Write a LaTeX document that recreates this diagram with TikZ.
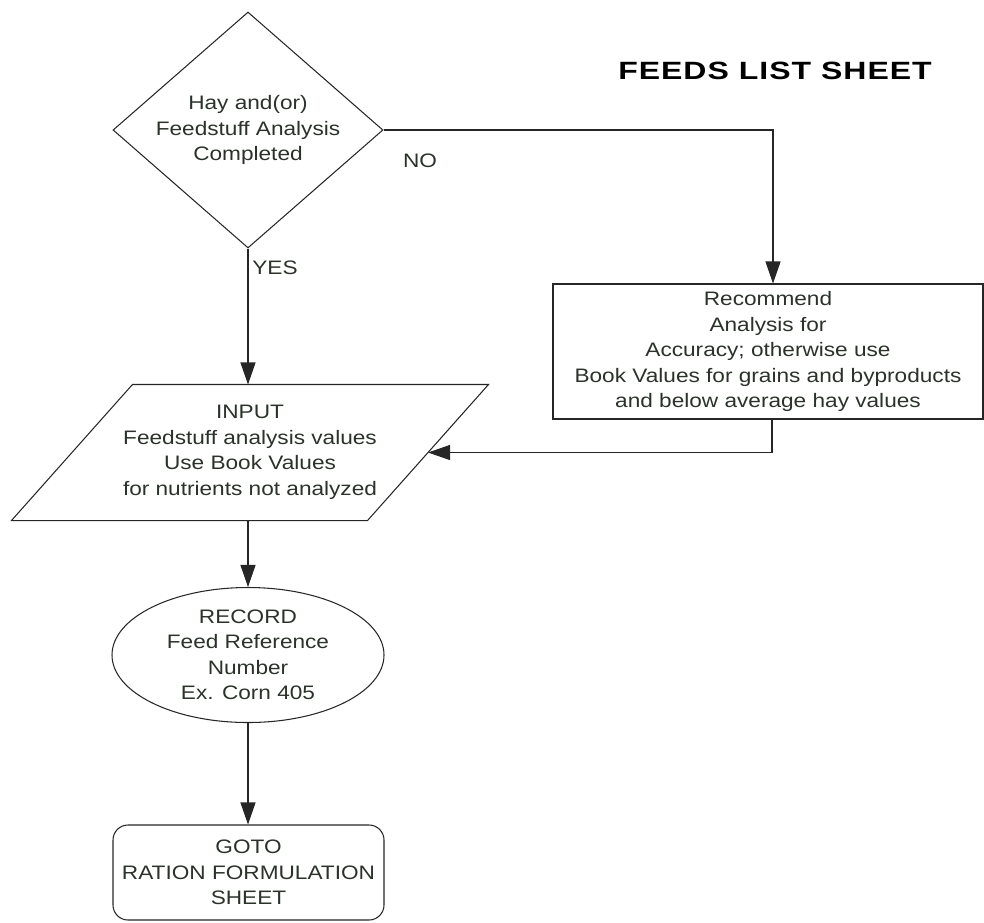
\documentclass[tikz,border=0pt]{standalone}
\usepackage{fontspec}
\setmainfont{Liberation Sans}[FakeStretch=1.16]
\newfontfamily\titlefont{Liberation Sans}[FakeStretch=1.28,LetterSpace=4]
\usetikzlibrary{shapes.geometric,arrows.meta}
\definecolor{ink}{RGB}{42,50,42}
\newcommand\flowfont{\fontsize{19.5}{25.5}\selectfont}
\begin{document}
\begin{tikzpicture}[x=1pt,y=-1pt,
  shapebox/.style={draw=black!85, line width=1.05pt, text=ink, align=center,
    font=\flowfont, inner sep=0pt},
  arr/.style={draw=black!85, -{Triangle[length=22pt,width=15pt]}, line width=1.05pt},
  lbl/.style={text=ink, font=\flowfont, inner sep=0pt}]
\useasboundingbox (0,0) rectangle (984,922);

% title
\node[text=black, font=\titlefont\bfseries\fontsize{25}{30}\selectfont, inner sep=0pt]
  (title) at (775,71) {FEEDS LIST SHEET};

% decision
\node[shapebox, diamond, aspect=1.144, minimum width=270pt, minimum height=236pt]
  (dec) at (248,130) {Hay and(or)\\Feedstuff Analysis\\Completed};

% recommendation box
\node[shapebox, rectangle, minimum width=430pt, minimum height=135pt]
  (rec) at (768,351.5) {Recommend\\Analysis for\\Accuracy; otherwise use\\Book Values for grains and byproducts\\and below average hay values};

% input parallelogram (outline drawn separately)
\node[shapebox, draw=none, minimum width=476pt, minimum height=135pt]
  (inp) at (250,452.5) {INPUT\\Feedstuff analysis values\\Use Book Values\\for nutrients not analyzed};
\draw[draw=black!85, line width=1.05pt] (inp.south west) -- ([xshift=-121pt]inp.south east)
  -- (inp.north east) -- ([xshift=121pt]inp.north west) -- cycle;
\coordinate (inpR) at ([xshift=-60.5pt]inp.east);

% record ellipse
\node[shapebox, ellipse, minimum width=272pt, minimum height=135pt]
  (rcd) at (248,655) {RECORD\\Feed Reference\\Number\\Ex. Corn 405};

% terminal
\node[shapebox, rectangle, rounded corners=15pt, minimum width=271pt, minimum height=95pt]
  (goto) at (248.5,872.5) {GOTO\\RATION FORMULATION\\SHEET};

% connectors
\draw[arr] (dec.east) -| ([xshift=5pt]rec.north);
\draw[arr] (dec.south) -- (dec.south |- inp.north);
\draw[arr] ([xshift=4pt]rec.south) |- (inpR);
\draw[arr] (rcd.north |- inp.south) -- (rcd.north);
\draw[arr] (rcd.south) -- (rcd.south |- goto.north);

% branch labels
\node[lbl] (no) at (420,161) {NO};
\node[lbl] (yes) at (275,268) {YES};
\end{tikzpicture}
\end{document}
